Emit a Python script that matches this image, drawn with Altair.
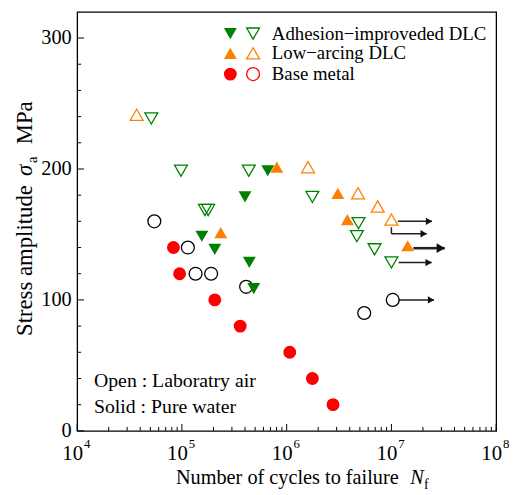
import altair as alt
import pandas as pd

# ---------------- data ----------------
# Adhesion-improved DLC
adh_water_N = [6.6e5, 4.0e5, 1.55e5, 2.06e5, 4.4e5, 4.85e5]
adh_water_S = [200, 180, 150, 140, 130, 110]
adh_air_N = [5.1e4, 9.8e4, 4.35e5, 1.66e5, 1.78e5, 1.76e6, 4.85e6, 4.68e6, 6.9e6, 1.0e7]
adh_air_S = [240, 200, 200, 170, 170, 180, 160, 150, 140, 130]
# Low-arcing DLC
low_water_N = [8.05e5, 2.35e5, 3.08e6, 3.8e6, 1.43e7]
low_water_S = [200, 150, 180, 160, 140]
low_air_N = [3.7e4, 1.6e6, 4.8e6, 7.4e6, 1.0e7]
low_air_S = [240, 200, 180, 170, 160]
# Base metal
base_water_N = [8.3e4, 9.5e4, 2.06e5, 3.6e5, 1.07e6, 1.76e6, 2.77e6]
base_water_S = [140, 120, 100, 80, 60, 40, 20]
base_air_N = [5.45e4, 1.14e5, 1.35e5, 1.9e5, 4.1e5, 5.5e6, 1.03e7]
base_air_S = [160, 140, 120, 120, 110, 90, 100]

# run-out arrows
arrow_start = [1.15e7, 1.0e7, 1.17e7, 1.17e7]
arrow_end = [2.44e7, 2.17e7, 2.42e7, 2.55e7]
arrow_S = [160, 150.5, 128.5, 100]
thick_arrow_start = [1.62e7]
thick_arrow_end = [3.23e7]
thick_arrow_S = [139.5]
elbow_N = [1.0e7]
elbow_S_top = [155.5]
elbow_S_bot = [150.5]

# axis ticks
x_major = [1e4, 1e5, 1e6, 1e7, 1e8]
x_exp = ["4", "5", "6", "7", "8"]
x_minor = [m * 10 ** k for k in range(4, 8) for m in range(2, 10)]
y_major = [0, 100, 200, 300]
y_minor = [v for v in range(20, 320, 20) if v % 100 != 0]

legend_labels = ["Adhesion\u2212improveded DLC", "Low\u2212arcing DLC", "Base metal"]

GREEN = "#008000"
ORANGE = "#ff8000"
RED = "#ff0000"
FONT = "Liberation Serif"

xs = alt.Scale(type="log", domain=[1e4, 1e8])
ys = alt.Scale(domain=[0, 320])
X = alt.X("N:Q", scale=xs, axis=None)
Y = alt.Y("S:Q", scale=ys,
          axis=alt.Axis(values=y_major, ticks=False, domain=False, grid=False,
                        labelFont=FONT, labelFontSize=20.5, labelColor="black",
                        labelPadding=6, title=""))

def df(N, S):
    return pd.DataFrame({"N": N, "S": S})

def pts(N, S, shape, color, filled, yoff):
    return alt.Chart(df(N, S)).mark_point(
        shape=shape, filled=filled, color=color, size=170, opacity=1,
        strokeWidth=1.3, yOffset=yoff).encode(x=X, y=Y)

layers = []

# ticks (inward)
layers.append(alt.Chart(pd.DataFrame({"S": y_major})).mark_rule(color="black", strokeWidth=1)
              .encode(y=Y, x=alt.value(0), x2=alt.value(7)))
layers.append(alt.Chart(pd.DataFrame({"S": y_minor})).mark_rule(color="black", strokeWidth=1)
              .encode(y=Y, x=alt.value(0), x2=alt.value(4)))
layers.append(alt.Chart(pd.DataFrame({"N": x_major})).mark_rule(color="black", strokeWidth=1)
              .encode(x=X, y=alt.value(424), y2=alt.value(417)))
layers.append(alt.Chart(pd.DataFrame({"N": x_minor})).mark_rule(color="black", strokeWidth=1)
              .encode(x=X, y=alt.value(424), y2=alt.value(420)))

# x tick labels 10^n
xl = pd.DataFrame({"N": x_major, "base": ["10"] * 5, "exp": x_exp})
layers.append(alt.Chart(xl).mark_text(align="right", baseline="alphabetic", dx=6,
                                      font=FONT, fontSize=21, color="black")
              .encode(x=X, y=alt.value(453), text="base:N"))
layers.append(alt.Chart(xl).mark_text(align="left", baseline="alphabetic", dx=7,
                                      font=FONT, fontSize=13, color="black")
              .encode(x=X, y=alt.value(441), text="exp:N"))

# run-out arrows
arr = pd.DataFrame({"N": arrow_start, "N2": arrow_end, "S": arrow_S})
layers.append(alt.Chart(arr).mark_rule(color="#222222", strokeWidth=1.5)
              .encode(x=X, x2="N2:Q", y=Y))
layers.append(alt.Chart(arr).mark_point(shape="triangle-right", filled=True, color="#111111",
                                        size=55, opacity=1, xOffset=-3)
              .encode(x=alt.X("N2:Q", scale=xs, axis=None), y=Y))
tarr = pd.DataFrame({"N": thick_arrow_start, "N2": thick_arrow_end, "S": thick_arrow_S})
layers.append(alt.Chart(tarr).mark_rule(color="#222222", strokeWidth=2.6)
              .encode(x=X, x2="N2:Q", y=Y))
layers.append(alt.Chart(tarr).mark_point(shape="triangle-right", filled=True, color="#111111",
                                         size=95, opacity=1, xOffset=-4)
              .encode(x=alt.X("N2:Q", scale=xs, axis=None), y=Y))
elb = pd.DataFrame({"N": elbow_N, "S": elbow_S_top, "S2": elbow_S_bot})
layers.append(alt.Chart(elb).mark_rule(color="#222222", strokeWidth=1.5)
              .encode(x=X, y=Y, y2="S2:Q"))

# data points
layers.append(pts(base_air_N, base_air_S, "circle", "black", False, 0))
layers.append(pts(base_water_N, base_water_S, "circle", RED, True, 0))
layers.append(pts(adh_air_N, adh_air_S, "triangle-down", GREEN, False, 1.8))
layers.append(pts(adh_water_N, adh_water_S, "triangle-down", GREEN, True, 1.8))
layers.append(pts(low_air_N, low_air_S, "triangle-up", ORANGE, False, -1.8))
layers.append(pts(low_water_N, low_water_S, "triangle-up", ORANGE, True, -1.8))

# legend (manual: filled and open symbol per row)
leg_rows = [("triangle-down", GREEN, GREEN, 22), ("triangle-up", ORANGE, ORANGE, 42),
            ("circle", RED, RED, 63)]
one = pd.DataFrame({"k": [0]})
for (shape, c1, c2, yy), lab in zip(leg_rows, legend_labels):
    layers.append(alt.Chart(one).mark_point(shape=shape, filled=True, color=c1, size=170, opacity=1)
                  .encode(x=alt.value(155), y=alt.value(yy)))
    layers.append(alt.Chart(one).mark_point(shape=shape, filled=False, color=c2, size=170, opacity=1,
                                            strokeWidth=1.3)
                  .encode(x=alt.value(178), y=alt.value(yy)))
    layers.append(alt.Chart(one).mark_text(align="left", baseline="middle", font=FONT, fontSize=19,
                                           color="black", text=lab)
                  .encode(x=alt.value(197), y=alt.value(yy)))

# annotations
for txt, yy in [("Open : Laboratry air", 374), ("Solid : Pure water", 400)]:
    layers.append(alt.Chart(one).mark_text(align="left", baseline="middle", font=FONT, fontSize=20,
                                           color="black", text=txt)
                  .encode(x=alt.value(17), y=alt.value(yy)))

# x title
layers.append(alt.Chart(one).mark_text(align="left", baseline="alphabetic", font=FONT, fontSize=20.5,
                                       color="black", text="Number of cycles to failure")
              .encode(x=alt.value(100), y=alt.value(478)))
layers.append(alt.Chart(one).mark_text(align="left", baseline="alphabetic", font=FONT, fontSize=20.5,
                                       fontStyle="italic", color="black", text="N")
              .encode(x=alt.value(337), y=alt.value(478)))
layers.append(alt.Chart(one).mark_text(align="left", baseline="alphabetic", font=FONT, fontSize=14,
                                       color="black", text="f")
              .encode(x=alt.value(351), y=alt.value(483)))

# y title (rotated)
layers.append(alt.Chart(one).mark_text(align="left", baseline="middle", font=FONT, fontSize=23,
                                       angle=270, color="black", text="Stress amplitude")
              .encode(x=alt.value(-53), y=alt.value(328)))
layers.append(alt.Chart(one).mark_text(align="left", baseline="middle", font=FONT, fontSize=23,
                                       angle=270, fontStyle="italic", color="black", text="\u03c3")
              .encode(x=alt.value(-53), y=alt.value(166)))
layers.append(alt.Chart(one).mark_text(align="left", baseline="middle", font=FONT, fontSize=15,
                                       angle=270, color="black", text="a")
              .encode(x=alt.value(-46), y=alt.value(153)))
layers.append(alt.Chart(one).mark_text(align="left", baseline="middle", font=FONT, fontSize=23,
                                       angle=270, color="black", text="MPa")
              .encode(x=alt.value(-53), y=alt.value(134)))

chart = alt.layer(*layers).properties(
    width=424, height=424,
    autosize=alt.AutoSizeParams(type="none"),
    padding={"left": 70, "top": 1, "right": 14, "bottom": 60},
    background="white",
).configure_view(stroke="black", strokeWidth=1.3)

chart.save("out.html", embed_options={"renderer": "svg", "actions": False})
